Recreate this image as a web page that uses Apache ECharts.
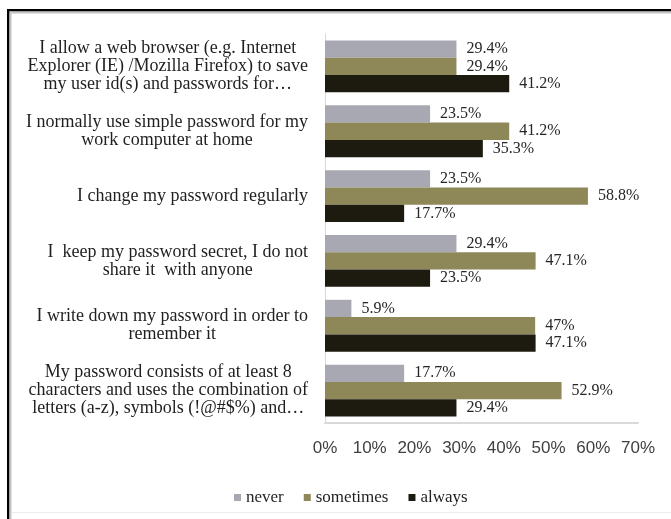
<!DOCTYPE html>
<html>
<head>
<meta charset="utf-8">
<script src="https://cdn.jsdelivr.net/npm/echarts@6/dist/echarts.min.js"></script>
<style>
  html, body { margin: 0; padding: 0; background: #ffffff; }
  #chart { width: 671px; height: 519px; }
</style>
</head>
<body>
<div id="chart"></div>
<script>
// Survey statements (top to bottom)
const categories = [
  'I allow a web browser (e.g. Internet\nExplorer (IE) /Mozilla Firefox) to save\nmy user id(s) and passwords for\u2026',
  'I normally use simple password for my\nwork computer at home',
  'I change my password regularly',
  'I  keep my password secret, I do not\nshare it  with anyone',
  'I write down my password in order to\nremember it',
  'My password consists of at least 8\ncharacters and uses the combination of\nletters (a-z), symbols (!@#$%) and\u2026'
];

// Share of respondents (%)
const never     = [29.4, 23.5, 23.5, 29.4, 5.9, 17.7];
const sometimes = [29.4, 41.2, 58.8, 47.1, 47, 52.9];
const always    = [41.2, 35.3, 17.7, 23.5, 47.1, 29.4];

const seriesNames = ['never', 'sometimes', 'always'];
const xTicks = [0, 10, 20, 30, 40, 50, 60, 70];

const serif = '"Liberation Serif", "Times New Roman", serif';
const colors = ['#a8a8b2', '#8e8758', '#1d1a10'];

const chart = echarts.init(document.getElementById('chart'), null, { renderer: 'canvas' });

function barSeries(name, values, color) {
  return {
    name: name,
    type: 'bar',
    data: values,
    barGap: '0%',
    barCategoryGap: '20%',
    itemStyle: { color: color },
    label: {
      show: true,
      position: 'right',
      distance: 10,
      formatter: p => p.value + '%',
      fontFamily: serif,
      fontSize: 16,
      color: '#262626'
    }
  };
}

chart.setOption({
  animation: false,
  backgroundColor: '#ffffff',
  color: colors,
  grid: { left: 325, right: 33, top: 34, bottom: 96, containLabel: false },
  xAxis: {
    type: 'value',
    min: xTicks[0],
    max: xTicks[xTicks.length - 1],
    interval: 10,
    axisLine: { show: true, lineStyle: { color: '#d9d9d9', width: 2 } },
    axisTick: { show: false },
    splitLine: { show: false },
    axisLabel: {
      formatter: '{value}%',
      fontFamily: '"Liberation Sans", Arial, sans-serif',
      fontSize: 17,
      color: '#404040',
      margin: 17
    }
  },
  yAxis: {
    type: 'category',
    data: categories,
    inverse: true,
    axisLine: { show: true, lineStyle: { color: '#d9d9d9', width: 1 } },
    axisTick: { show: false },
    axisLabel: {
      margin: 17,
      align: 'right',
      formatter: v => v.split('\n').map(s => '{c|' + s + '}').join('\n'),
      rich: {
        c: {
          align: 'center',
          fontFamily: serif,
          fontSize: 18,
          lineHeight: 18,
          color: '#1f1f1f'
        }
      }
    }
  },
  legend: {
    data: seriesNames,
    left: 229,
    top: 484,
    icon: 'rect',
    itemWidth: 7,
    itemHeight: 7,
    itemGap: 20,
    textStyle: { fontFamily: serif, fontSize: 17, color: '#1f1f1f' }
  },
  graphic: [
    // frame edges
    { type: 'rect', silent: true, shape: { x: 7, y: 9, width: 664, height: 2.5 }, style: { fill: '#000000' } },
    { type: 'rect', silent: true, shape: { x: 9, y: 11.5, width: 662, height: 2 }, style: { fill: '#c4c4c4' } },
    { type: 'rect', silent: true, shape: { x: 7, y: 9, width: 2.5, height: 510 }, style: { fill: '#000000' } },
    { type: 'rect', silent: true, shape: { x: 9.5, y: 11.5, width: 2, height: 508 }, style: { fill: '#c4c4c4' } },
    { type: 'rect', silent: true, shape: { x: 11, y: 512, width: 660, height: 1 }, style: { fill: '#ececec' } }
  ],
  series: [
    barSeries(seriesNames[0], never, colors[0]),
    barSeries(seriesNames[1], sometimes, colors[1]),
    barSeries(seriesNames[2], always, colors[2])
  ]
});
</script>
</body>
</html>
